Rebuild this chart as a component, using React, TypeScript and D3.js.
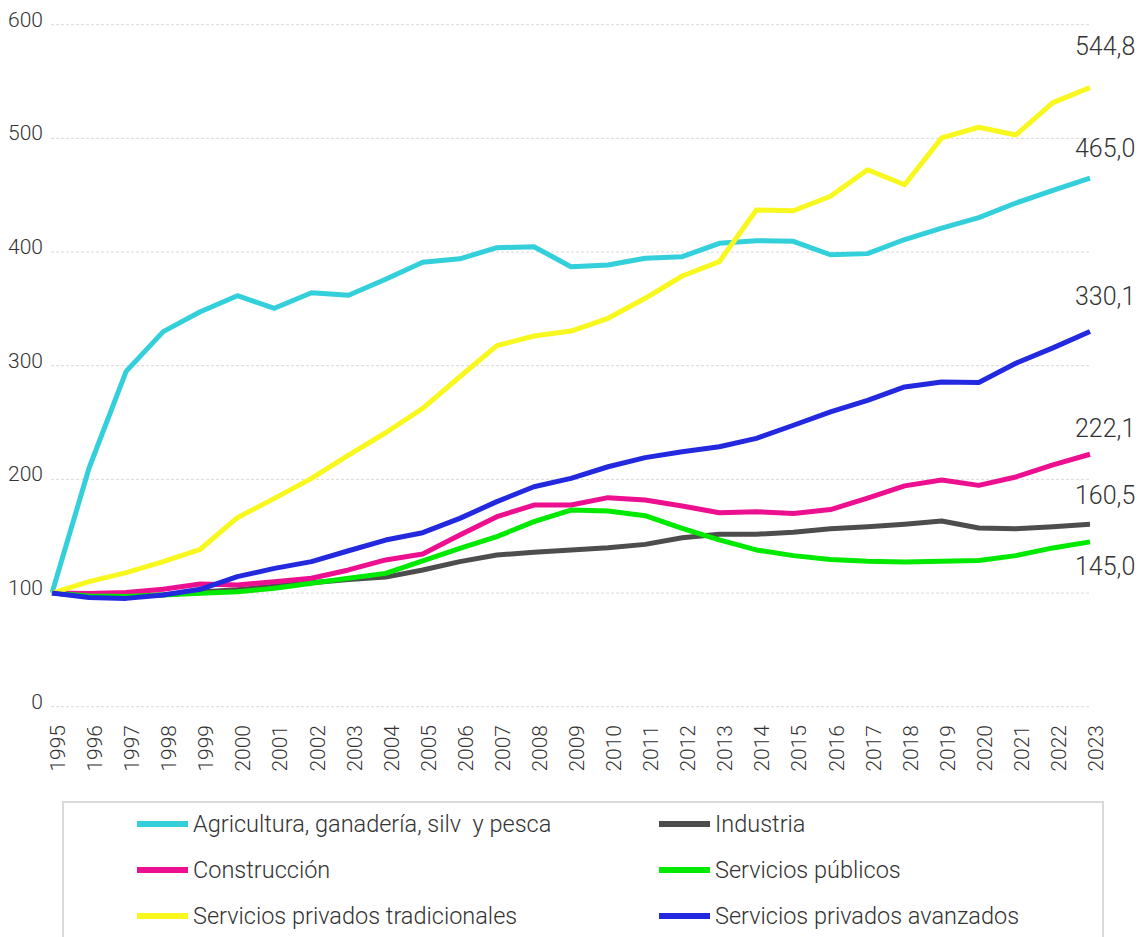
import React from "react";
import * as d3 from "d3";

const years = d3.range(1995, 2024).map(String);

const agricultura = [100, 210, 295, 330, 347.5, 361.6, 350.5, 364.2, 362, 376, 391, 394, 403.8, 404.7, 387.1, 388.6, 394.5, 395.9, 407.7, 410, 409.4, 397.6, 398.6, 411, 421.1, 430.3, 443.1, 454.2, 465.0];
const industria = [100, 97.5, 97, 98.5, 101, 103, 106, 109, 112, 114, 120.3, 127.6, 133.5, 135.8, 137.9, 139.9, 142.8, 148.7, 151.7, 151.7, 153.5, 156.6, 158.3, 160.6, 163.3, 157.2, 156.6, 158.3, 160.5];
const construccion = [100, 99.5, 100.5, 103.3, 108, 107.1, 110, 113, 120.3, 129.1, 134.3, 151, 167.2, 177.4, 177.4, 183.9, 181.8, 176.6, 170.7, 171.6, 170, 173.4, 183.5, 194.3, 199.4, 194.7, 202.1, 212.8, 222.1];
const serviciosPublicos = [100, 97.5, 97, 98.3, 99.8, 101.2, 104.2, 108.6, 113, 117.3, 128.2, 139.3, 149.6, 162.8, 173, 172.2, 168, 156.9, 146.7, 137.9, 132.9, 129.6, 127.9, 127.3, 127.9, 128.6, 132.9, 139.7, 145.0];
const serviciosTradicionales = [100, 110, 117.9, 127.6, 138.5, 166.3, 183.3, 200.9, 221.4, 241, 262.5, 290.3, 317.6, 326.1, 330.5, 341.7, 359.3, 378.9, 391.5, 437, 436.3, 449.1, 472.4, 459.2, 500.4, 509.8, 503, 531.4, 544.8];
const serviciosAvanzados = [100, 96, 95.3, 98.3, 103.3, 114.4, 121.7, 127.6, 137.2, 146.6, 153.1, 165.7, 180.4, 193.5, 200.9, 211.1, 219.1, 224.3, 228.7, 236.1, 247.6, 259.4, 269.5, 281.3, 285.7, 285.3, 302.2, 315.7, 330.1];

const seriesNames = [
  "Agricultura, ganadería, silv  y pesca",
  "Industria",
  "Construcción",
  "Servicios públicos",
  "Servicios privados tradicionales",
  "Servicios privados avanzados",
];
const seriesValues = [agricultura, industria, construccion, serviciosPublicos, serviciosTradicionales, serviciosAvanzados];
const seriesColors = ["#33cfdb", "#4d4d4d", "#ec1090", "#00ea00", "#f8f81e", "#2329de"];
const endLabelOffsets = [-21, -20, -17, 33, -32, -26];

const yTicks = [0, 100, 200, 300, 400, 500, 600];

const W = 1143;
const H = 937;
const FONT = "Roboto, 'Noto Sans', sans-serif";

export default function App() {
  const x = d3.scalePoint<string>().domain(years).range([52, 1090]);
  const y = d3.scaleLinear().domain([0, 600]).range([706.7, 24.7]);
  const line = d3
    .line<number>()
    .x((_, i) => x(years[i]) as number)
    .y((d) => y(d));

  const fmt = (v: number) => v.toFixed(1).replace(".", ",");
  const last = years[years.length - 1];

  return (
    <div style={{ position: "absolute", left: 0, top: 0 }}>
      <svg width={W} height={H} style={{ display: "block", background: "#fff" }} fontFamily={FONT}>
        {yTicks.map((t) => (
          <g key={t}>
            <line x1={51} x2={1090} y1={y(t)} y2={y(t)} stroke="#d9d9d9" strokeWidth={1} strokeDasharray="3,2" />
            <text x={43} y={y(t) + 2} textAnchor="end" fontSize={21} fontWeight={300} fill="#333">
              {t}
            </text>
          </g>
        ))}
        {years.map((yr) => (
          <text
            key={yr}
            transform={`translate(${(x(yr) as number) + 13},725) rotate(-90)`}
            textAnchor="end"
            fontSize={21}
            fontWeight={300}
            fill="#333"
          >
            {yr}
          </text>
        ))}
        {seriesValues.map((vals, i) => (
          <path
            key={seriesNames[i]}
            d={line(vals) || ""}
            fill="none"
            stroke={seriesColors[i]}
            strokeWidth={5}
            strokeLinejoin="round"
          />
        ))}
        {seriesValues.map((vals, i) => {
          const v = vals[vals.length - 1];
          return (
            <text key={"l" + i} x={(x(last) as number) - 15} y={y(v) + endLabelOffsets[i]} fontSize={25} fontWeight={300} fill="#333">
              {fmt(v)}
            </text>
          );
        })}
        <rect x={63} y={802} width={1040} height={200} fill="none" stroke="#d9d9d9" strokeWidth={2} />
        {seriesNames.map((name, i) => {
          const col = i % 2;
          const row = Math.floor(i / 2);
          const sx = col === 0 ? 137 : 659;
          const cy = 824 + row * 46;
          return (
            <g key={"lg" + i}>
              <line x1={sx} x2={sx + 51} y1={cy} y2={cy} stroke={seriesColors[i]} strokeWidth={6} />
              <text
                x={sx + 56}
                y={cy}
                dominantBaseline="central"
                fontSize={23.5}
                fontWeight={300}
                fill="#333"
                style={{ whiteSpace: "pre" }}
              >
                {name}
              </text>
            </g>
          );
        })}
      </svg>
    </div>
  );
}
